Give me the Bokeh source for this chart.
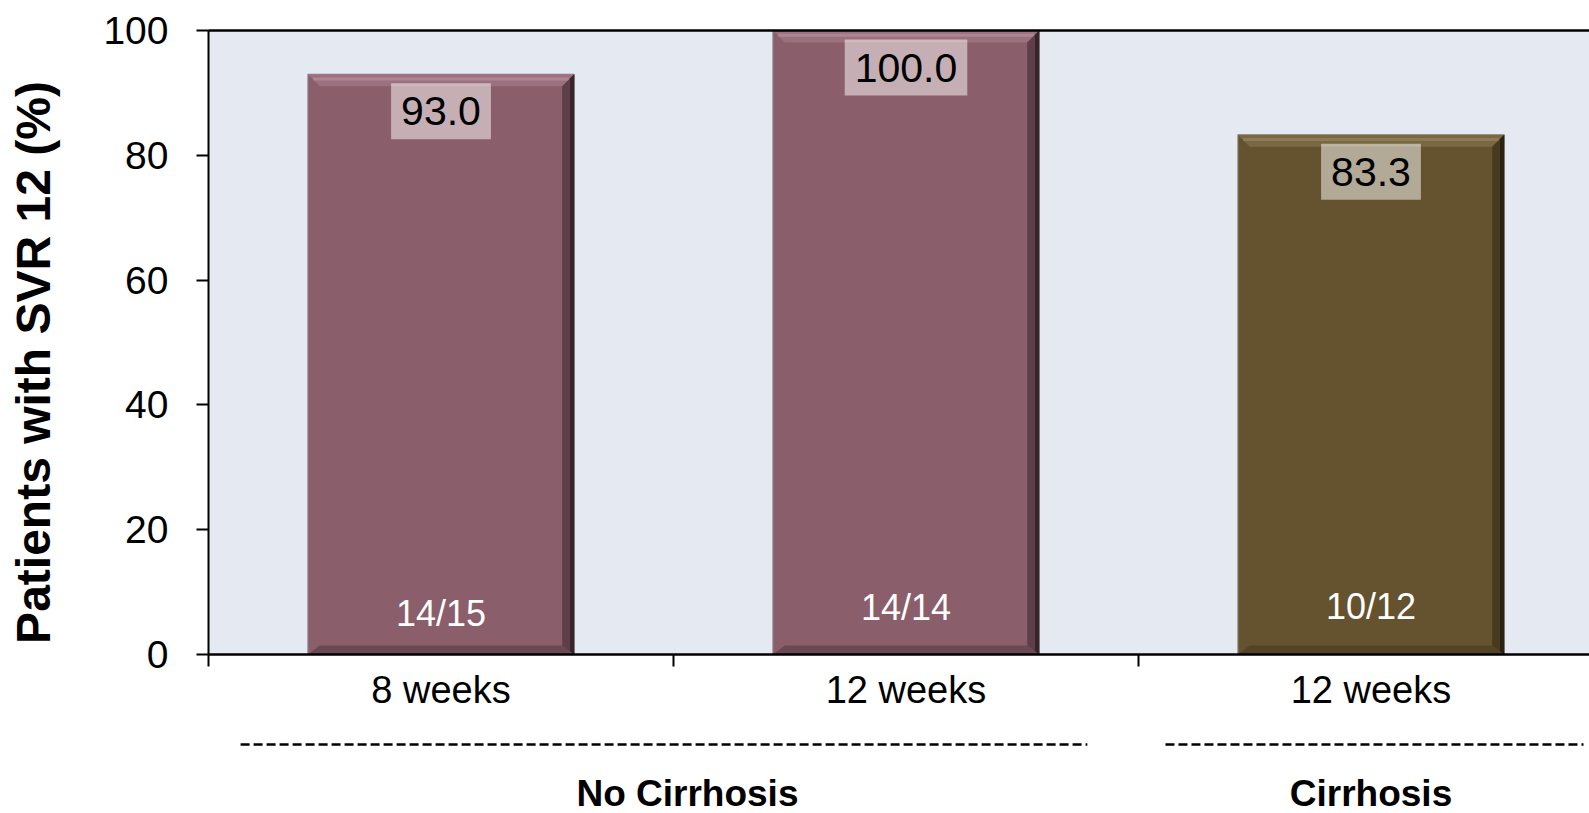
from bokeh.plotting import figure
from bokeh.layouts import column
from bokeh.models import ColumnDataSource, Range1d, FixedTicker, LinearAxis
from bokeh.core.properties import value
from bokeh.embed import file_html
from bokeh.resources import INLINE

# ---------------- data ----------------
weeks = ["8 weeks", "12 weeks", "12 weeks"]
svr = [93.0, 100.0, 83.3]
patients = ["14/15", "14/14", "10/12"]
groups = ["No Cirrhosis", "Cirrhosis"]
y_ticks = [0, 20, 40, 60, 80, 100]
y_title = "Patients with SVR 12 (%)"

# ---------------- layout / style constants ----------------
FONT = "Liberation Sans"
FIG_W = 1589
LEFT = 208
FRAME_W = FIG_W - LEFT
PX_PER_UNIT = 465.0
X_END = FRAME_W / PX_PER_UNIT
MAIN_H = 720
TOP = 30
BOTTOM = 66
FRAME_H = MAIN_H - TOP - BOTTOM
BAR_W = 0.573
STRIP_H = 813 - MAIN_H
TITLE_SHIFT = "\u00a0\u00a0\u00a0"   # nudges the centred axis title slightly downwards

bar_fill = ["#8A5E6A", "#8A5E6A", "#65532F"]
bevel_top = ["#9C717F", "#9C717F", "#7A6842"]
bevel_hl = ["#AE8693", "#AE8693", "#8C7B54"]
bevel_right = ["#5E3E48", "#5E3E48", "#473A1F"]
bevel_edge = ["#36262B", "#36262B", "#2A2313"]
bevel_bottom = ["#6B4954", "#6B4954", "#524424"]
box_fill = "white"

frac_label_y = [6.6, 7.5, 7.7]
dash_start = [0.069, 2.058]
dash_end = [1.890, 2.957]
group_label_x = [1.03, 2.50]

PXX = X_END / FRAME_W
PXY = 100.0 / FRAME_H

centers = [i + 0.5 for i in range(len(svr))]

# ---------------- main figure ----------------
p = figure(width=FIG_W, height=MAIN_H, x_range=Range1d(0, X_END), y_range=Range1d(0, 100),
           output_backend="svg", toolbar_location=None, title=None,
           min_border_left=LEFT, min_border_right=0, min_border_top=TOP, min_border_bottom=BOTTOM)
p.background_fill_color = "#E4E9F2"
p.border_fill_color = "white"
p.outline_line_color = None
p.xgrid.visible = False
p.ygrid.visible = False

# bars
src = ColumnDataSource(dict(x=centers, top=svr, color=bar_fill, weeks=weeks, pts=patients,
                            fy=frac_label_y, lab=["%.1f" % v for v in svr]))
p.vbar(x="x", top="top", bottom=0, width=BAR_W, fill_color="color", line_color="#9A9A9A",
       line_width=1, source=src)

# bevel effect computed from the bar geometry
b = 12
bx, by, byb = b * PXX, b * PXY, 9 * PXY
top_xs, top_ys, r_xs, r_ys, e_xs, e_ys, bt_xs, bt_ys = [], [], [], [], [], [], [], []
hl_x0, hl_x1, hl_y = [], [], []
for c, v in zip(centers, svr):
    x0, x1 = c - BAR_W / 2, c + BAR_W / 2
    top_xs.append([x0, x1, x1 - bx, x0 + bx]); top_ys.append([v, v, v - by, v - by])
    r_xs.append([x1, x1, x1 - bx, x1 - bx]); r_ys.append([v, 0, byb, v - by])
    e_xs.append([x1, x1, x1 - 0.35 * bx, x1 - 0.35 * bx]); e_ys.append([v, 0, 0.35 * byb, v - 0.35 * by])
    bt_xs.append([x0, x1, x1 - bx, x0 + bx]); bt_ys.append([0, 0, byb, byb])
    hl_x0.append(x0 + 0.45 * bx); hl_x1.append(x1 - 0.45 * bx); hl_y.append(v - 0.4 * by)

p.patches(top_xs, top_ys, fill_color=bevel_top, line_color=None)
p.segment(hl_x0, hl_y, hl_x1, hl_y, line_color=bevel_hl, line_width=3)
p.patches(bt_xs, bt_ys, fill_color=bevel_bottom, line_color=None)
p.patches(r_xs, r_ys, fill_color=bevel_right, line_color=None)
p.patches(e_xs, e_ys, fill_color=bevel_edge, line_color=None)

# value labels with translucent boxes
p.text(x="x", y="top", text="lab", source=src, text_font=value(FONT), text_font_size="41px",
       text_color="black", text_align="center", text_baseline="middle", y_offset=37,
       background_fill_color=box_fill, background_fill_alpha=0.5, padding=(10, 14))

# fraction labels
p.text(x="x", y="fy", text="pts", source=src, text_font=value(FONT), text_font_size="36px",
       text_color="white", text_align="center", text_baseline="middle")

# y axis
ya = p.yaxis[0]
ya.ticker = FixedTicker(ticks=y_ticks)
ya.axis_line_width = 2
ya.axis_line_color = "black"
ya.major_tick_out = 12
ya.major_tick_in = 0
ya.major_tick_line_width = 2
ya.minor_tick_out = 0
ya.minor_tick_in = 0
ya.major_label_text_font = FONT
ya.major_label_text_font_size = "39px"
ya.major_label_text_color = "black"
ya.major_label_standoff = 28
ya.axis_label = y_title + TITLE_SHIFT
ya.axis_label_text_font = FONT
ya.axis_label_text_font_size = "48px"
ya.axis_label_text_font_style = "bold"
ya.axis_label_text_color = "black"
ya.axis_label_standoff = 40

# x axis: labels at bar centres, tick marks at category boundaries
xa = p.xaxis[0]
xa.ticker = FixedTicker(ticks=centers, minor_ticks=list(range(len(svr) + 1)))
xa.major_label_overrides = {c: w for c, w in zip(centers, weeks)}
xa.axis_line_width = 2.5
xa.axis_line_color = "black"
xa.major_tick_out = 0
xa.major_tick_in = 0
xa.minor_tick_out = 12
xa.minor_tick_in = 0
xa.minor_tick_line_width = 2
xa.minor_tick_line_color = "black"
xa.major_label_text_font = FONT
xa.major_label_text_font_size = "38px"
xa.major_label_text_color = "black"
xa.major_label_standoff = 2

# top border line
top_axis = LinearAxis(ticker=FixedTicker(ticks=[]), major_label_text_font_size="0px",
                      major_tick_out=0, major_tick_in=0, minor_tick_out=0, minor_tick_in=0,
                      axis_line_width=2.5, axis_line_color="black")
p.add_layout(top_axis, "above")

# ---------------- group label strip ----------------
q = figure(width=FIG_W, height=STRIP_H, x_range=p.x_range, y_range=Range1d(0, STRIP_H),
           output_backend="svg", toolbar_location=None, title=None,
           x_axis_location=None, y_axis_location=None,
           min_border_left=LEFT, min_border_right=0, min_border_top=0, min_border_bottom=0)
q.outline_line_color = None
q.background_fill_color = "white"
q.border_fill_color = "white"
q.xgrid.visible = False
q.ygrid.visible = False
q.segment(dash_start, [69, 69], dash_end, [69, 69], line_color="black", line_width=2.5,
          line_dash="9 4")
q.text(x=group_label_x, y=[20, 20], text=groups, text_font=value(FONT), text_font_size="37px",
       text_font_style="bold", text_color="black", text_align="center", text_baseline="middle")

layout = column(p, q, spacing=0)
open("out.html", "w").write(file_html(layout, INLINE))
